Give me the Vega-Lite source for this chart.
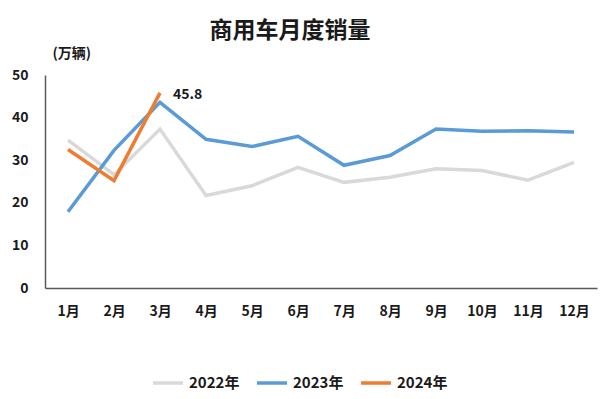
{
  "$schema": "https://vega.github.io/schema/vega-lite/v6.json",
  "autosize": "none",
  "width": 552,
  "height": 213,
  "padding": {"left": 45, "top": 75, "right": 3, "bottom": 111},
  "background": "white",
  "config": {
    "font": "Noto Sans CJK SC",
    "view": {"stroke": null}
  },
  "title": {
    "text": "商用车月度销量",
    "fontSize": 23,
    "fontWeight": "bold",
    "color": "#1a1a1a",
    "anchor": "middle",
    "dx": -31,
    "offset": 3,
    "font": "Noto Sans CJK SC"
  },
  "data": {
    "values": [
      {"month": "1月", "year": "2022年", "value": 34.7},
      {"month": "2月", "year": "2022年", "value": 26.6},
      {"month": "3月", "year": "2022年", "value": 37.3},
      {"month": "4月", "year": "2022年", "value": 21.7},
      {"month": "5月", "year": "2022年", "value": 24.0},
      {"month": "6月", "year": "2022年", "value": 28.3},
      {"month": "7月", "year": "2022年", "value": 24.8},
      {"month": "8月", "year": "2022年", "value": 26.0},
      {"month": "9月", "year": "2022年", "value": 28.0},
      {"month": "10月", "year": "2022年", "value": 27.6},
      {"month": "11月", "year": "2022年", "value": 25.3},
      {"month": "12月", "year": "2022年", "value": 29.5},
      {"month": "1月", "year": "2023年", "value": 17.9},
      {"month": "2月", "year": "2023年", "value": 32.3},
      {"month": "3月", "year": "2023年", "value": 43.6},
      {"month": "4月", "year": "2023年", "value": 34.9},
      {"month": "5月", "year": "2023年", "value": 33.2},
      {"month": "6月", "year": "2023年", "value": 35.6},
      {"month": "7月", "year": "2023年", "value": 28.8},
      {"month": "8月", "year": "2023年", "value": 31.1},
      {"month": "9月", "year": "2023年", "value": 37.3},
      {"month": "10月", "year": "2023年", "value": 36.8},
      {"month": "11月", "year": "2023年", "value": 36.9},
      {"month": "12月", "year": "2023年", "value": 36.6},
      {"month": "1月", "year": "2024年", "value": 32.5},
      {"month": "2月", "year": "2024年", "value": 25.2},
      {"month": "3月", "year": "2024年", "value": 45.8}
    ]
  },
  "encoding": {
    "x": {
      "field": "month",
      "type": "ordinal",
      "sort": ["1月","2月","3月","4月","5月","6月","7月","8月","9月","10月","11月","12月"],
      "scale": {"type": "point", "padding": 0.5},
      "axis": {
        "title": null,
        "labelAngle": 0,
        "ticks": false,
        "domainColor": "#595959",
        "domainWidth": 1.5,
        "labelFontSize": 14,
        "labelFontWeight": "bold",
        "labelColor": "#1a1a1a",
        "labelPadding": 16,
        "grid": false
      }
    },
    "y": {
      "field": "value",
      "type": "quantitative",
      "scale": {"domain": [0, 50], "nice": false},
      "axis": {
        "title": "(万辆)",
        "titleAngle": 0,
        "titleX": 7,
        "titleY": -22,
        "titleAlign": "left",
        "titleBaseline": "middle",
        "titleFontSize": 14,
        "titleFontWeight": "bold",
        "titleColor": "#1a1a1a",
        "values": [0, 10, 20, 30, 40, 50],
        "ticks": false,
        "grid": false,
        "domainColor": "#595959",
        "domainWidth": 1.5,
        "labelFontSize": 14,
        "labelFontWeight": "bold",
        "labelColor": "#1a1a1a",
        "labelPadding": 17
      }
    }
  },
  "layer": [
    {
      "mark": {"type": "line", "strokeWidth": 3.5},
      "encoding": {
        "color": {
          "field": "year",
          "type": "nominal",
          "scale": {"domain": ["2022年", "2023年", "2024年"], "range": ["#d9d9d9", "#5b9bd5", "#ed7d31"]},
          "legend": {
            "orient": "none",
            "direction": "horizontal",
            "legendX": 106,
            "legendY": 291,
            "title": null,
            "symbolType": "stroke",
            "symbolSize": 900,
            "symbolStrokeWidth": 3.5,
            "labelFontSize": 15,
            "labelFontWeight": "bold",
            "labelColor": "#1a1a1a",
            "columnPadding": 10,
            "labelOffset": 4
          }
        }
      }
    },
    {
      "transform": [{"filter": "datum.year == '2024年' && datum.month == '3月'"}],
      "mark": {"type": "text", "align": "left", "baseline": "middle", "dx": 13, "dy": 2, "fontSize": 14, "fontWeight": "bold", "color": "#1a1a1a"},
      "encoding": {"text": {"field": "value", "type": "quantitative", "format": ".1f"}}
    }
  ]
}
